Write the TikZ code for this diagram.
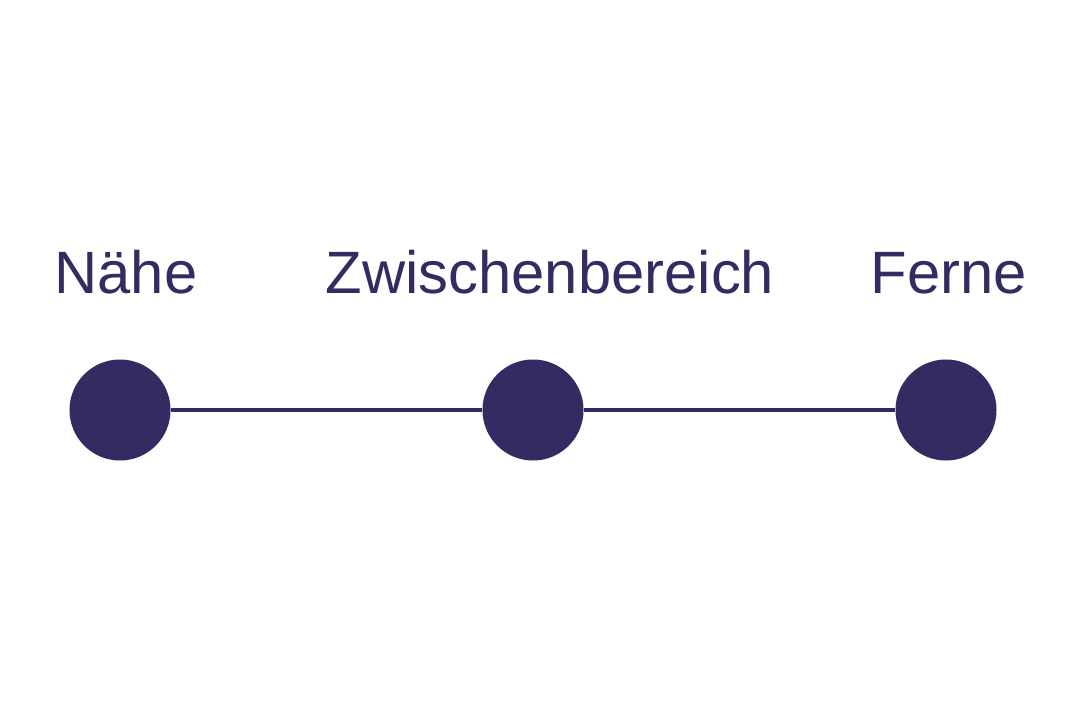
\documentclass[tikz,border=0pt]{standalone}
\usepackage{fontspec}
\setmainfont{Liberation Sans}
\usepackage{xcolor}
\usepackage{tikz}
\usetikzlibrary{positioning}

\definecolor{deepnavy}{HTML}{322C62}

\begin{document}
\begin{tikzpicture}[x=0.025cm, y=-0.025cm]
            \tikzstyle{stop} = [circle, fill=deepnavy, minimum size=2.525cm, inner sep=0pt];
            \tikzstyle{label} = [anchor=base, text=deepnavy, font=\fontsize{42.5}{50}\selectfont, inner sep=0pt];
            \useasboundingbox (0, 0) rectangle (1086, 724);

            \node [stop] (S0) at (120, 410) {};
            \node [stop] (S1) at (533, 410) {};
            \node [stop] (S2) at (946, 410) {};

            \node [label] (L0) at (126, 293) {Nähe};
            \node [label] (L1) at (550, 293) {Zwischenbereich};
            \node [label] (L2) at (949, 293) {Ferne};

            \foreach \i/\j in {0/1, 1/2}
                \draw [deepnavy, line width=3.5pt] (S\i) to (S\j);
        \end{tikzpicture}
\end{document}
